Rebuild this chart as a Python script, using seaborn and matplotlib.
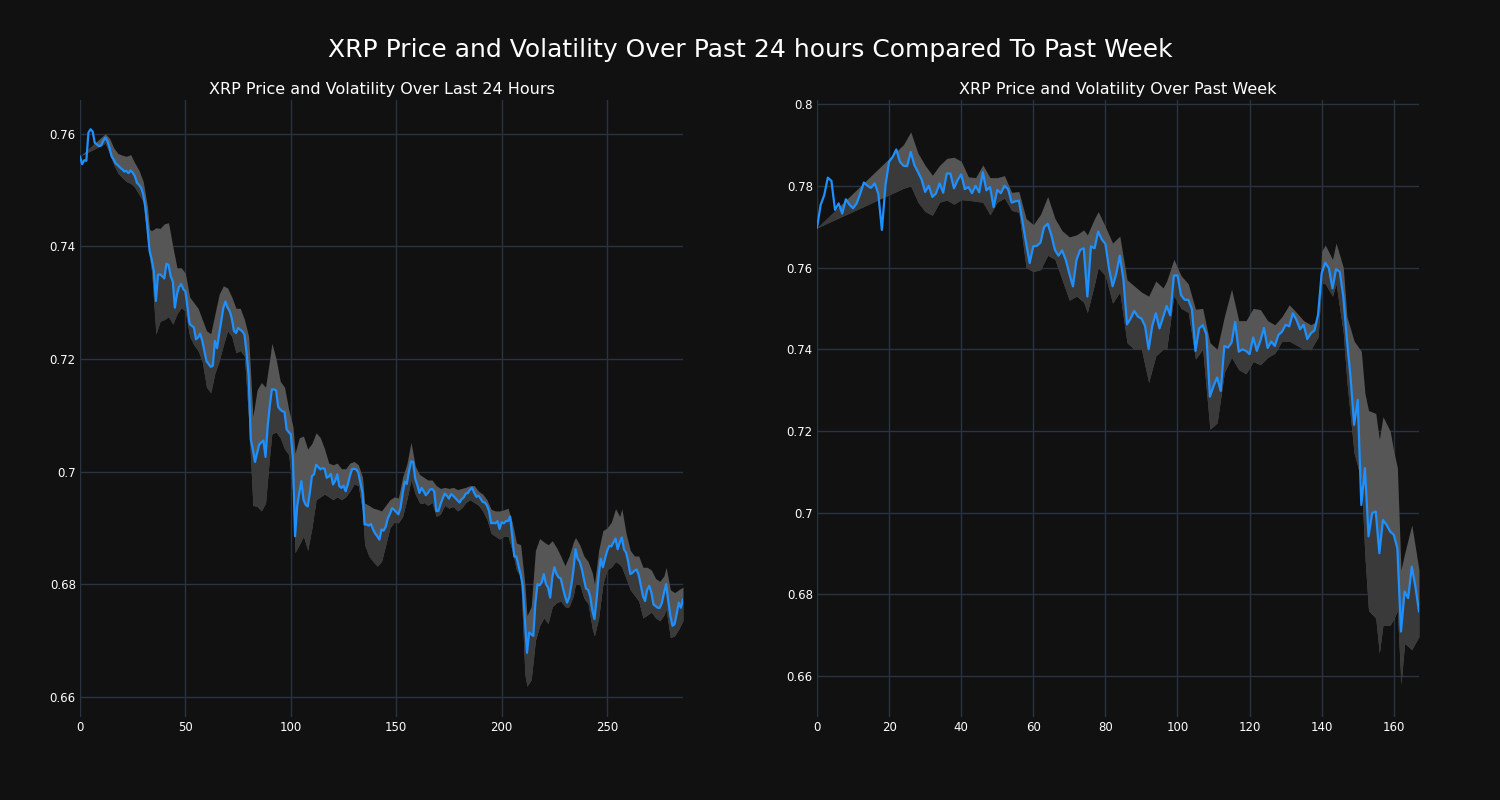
import numpy as np
import pandas as pd
import matplotlib
matplotlib.use('Agg')
import matplotlib.pyplot as plt
from matplotlib.ticker import FuncFormatter
import seaborn as sns

# price over the last 24 hours (5 minute steps)
day_price = [
    0.7560, 0.7546, 0.7553, 0.7552, 0.7602, 0.7608, 0.7604, 0.7584, 0.7581, 0.7578,
    0.7579, 0.7587, 0.7593, 0.7587, 0.7575, 0.7560, 0.7554, 0.7547, 0.7544, 0.7540,
    0.7537, 0.7533, 0.7534, 0.7530, 0.7535, 0.7531, 0.7525, 0.7513, 0.7509, 0.7504,
    0.7492, 0.7469, 0.7433, 0.7392, 0.7377, 0.7356, 0.7303, 0.7350, 0.7350, 0.7347,
    0.7343, 0.7369, 0.7367, 0.7347, 0.7338, 0.7291, 0.7315, 0.7328, 0.7333, 0.7324,
    0.7320, 0.7291, 0.7262, 0.7259, 0.7256, 0.7235, 0.7238, 0.7245, 0.7232, 0.7214,
    0.7196, 0.7191, 0.7186, 0.7188, 0.7232, 0.7219, 0.7244, 0.7267, 0.7291, 0.7302,
    0.7291, 0.7285, 0.7272, 0.7250, 0.7246, 0.7255, 0.7252, 0.7249, 0.7243, 0.7211,
    0.7169, 0.7057, 0.7039, 0.7017, 0.7033, 0.7048, 0.7052, 0.7055, 0.7026, 0.7080,
    0.7116, 0.7146, 0.7146, 0.7144, 0.7115, 0.7110, 0.7107, 0.7106, 0.7075, 0.7070,
    0.7066, 0.7021, 0.6885, 0.6938, 0.6962, 0.6983, 0.6950, 0.6941, 0.6938, 0.6962,
    0.6992, 0.6995, 0.7012, 0.7008, 0.7004, 0.7006, 0.7005, 0.6989, 0.6991, 0.6996,
    0.6977, 0.6983, 0.6995, 0.6974, 0.6971, 0.6975, 0.6965, 0.6977, 0.6992, 0.7004,
    0.7005, 0.7004, 0.6998, 0.6980, 0.6962, 0.6906, 0.6906, 0.6904, 0.6907, 0.6897,
    0.6890, 0.6885, 0.6879, 0.6897, 0.6895, 0.6902, 0.6917, 0.6925, 0.6935, 0.6932,
    0.6928, 0.6924, 0.6935, 0.6960, 0.6982, 0.6978, 0.7000, 0.7018, 0.7017, 0.6987,
    0.6976, 0.6962, 0.6971, 0.6965, 0.6958, 0.6962, 0.6968, 0.6969, 0.6965, 0.6930,
    0.6930, 0.6942, 0.6952, 0.6961, 0.6957, 0.6952, 0.6960, 0.6957, 0.6953, 0.6949,
    0.6945, 0.6951, 0.6954, 0.6961, 0.6962, 0.6968, 0.6971, 0.6962, 0.6955, 0.6957,
    0.6952, 0.6946, 0.6945, 0.6940, 0.6930, 0.6908, 0.6909, 0.6908, 0.6912, 0.6898,
    0.6910, 0.6908, 0.6912, 0.6912, 0.6920, 0.6885, 0.6849, 0.6849, 0.6832, 0.6817,
    0.6796, 0.6738, 0.6678, 0.6714, 0.6711, 0.6708, 0.6767, 0.6800, 0.6798, 0.6803,
    0.6818, 0.6800, 0.6794, 0.6776, 0.6812, 0.6830, 0.6818, 0.6812, 0.6810, 0.6794,
    0.6779, 0.6767, 0.6776, 0.6797, 0.6824, 0.6862, 0.6845, 0.6840, 0.6827, 0.6809,
    0.6792, 0.6790, 0.6778, 0.6753, 0.6738, 0.6773, 0.6815, 0.6845, 0.6830, 0.6845,
    0.6859, 0.6868, 0.6867, 0.6874, 0.6881, 0.6862, 0.6874, 0.6883, 0.6862, 0.6856,
    0.6840, 0.6818, 0.6820, 0.6824, 0.6826, 0.6816, 0.6797, 0.6779, 0.6770, 0.6790,
    0.6797, 0.6785, 0.6764, 0.6761, 0.6758, 0.6758, 0.6767, 0.6785, 0.6800, 0.6770,
    0.6744, 0.6726, 0.6729, 0.6747, 0.6767, 0.6758, 0.6773,
]

# volatility band (24h), read every couple of steps
day_band_x = [0, 12, 14, 16, 18, 20, 22, 24, 26, 28, 30, 32, 33, 34, 36, 38, 40, 42, 44, 46,
              48, 50, 52, 54, 56, 58, 60, 62, 64, 66, 68, 70, 72, 74, 76, 78, 80, 82, 84, 86,
              88, 90, 91, 93, 95, 97, 99, 101, 102, 104, 106, 108, 110, 112, 114, 116, 118, 120, 122, 124,
              126, 128, 130, 132, 134, 135, 137, 139, 141, 143, 145, 147, 149, 151, 153, 155, 157, 159, 161, 163,
              165, 167, 169, 171, 173, 175, 177, 179, 181, 183, 185, 187, 189, 191, 193, 195, 197, 199, 201, 203,
              205, 207, 209, 211, 212, 214, 216, 218, 220, 222, 224, 226, 228, 230, 232, 234, 235, 237, 239, 241,
              243, 244, 246, 248, 250, 252, 254, 256, 257, 259, 261, 263, 265, 267, 269, 271, 273, 275, 277, 278,
              280, 282, 284, 286]
day_band_hi = [0.7560, 0.7600, 0.7592, 0.7575, 0.7565, 0.7562, 0.7560, 0.7563, 0.7548, 0.7535,
               0.7515, 0.7470, 0.7430, 0.7428, 0.7433, 0.7432, 0.7440, 0.7442, 0.7400, 0.7362,
               0.7362, 0.7352, 0.7310, 0.7300, 0.7290, 0.7270, 0.7250, 0.7245, 0.7280, 0.7315,
               0.7330, 0.7326, 0.7310, 0.7290, 0.7290, 0.7270, 0.7240, 0.7098, 0.7145, 0.7158,
               0.7150, 0.7200, 0.7228, 0.7200, 0.7160, 0.7150, 0.7110, 0.7080, 0.7033, 0.7060,
               0.7063, 0.7040, 0.7050, 0.7069, 0.7060, 0.7040, 0.7015, 0.7012, 0.7015, 0.7005,
               0.7005, 0.7015, 0.7018, 0.7012, 0.6990, 0.6944, 0.6940, 0.6935, 0.6933, 0.6930,
               0.6940, 0.6950, 0.6955, 0.6953, 0.6990, 0.7013, 0.7052, 0.7010, 0.6995, 0.6990,
               0.6985, 0.6985, 0.6975, 0.6970, 0.6972, 0.6970, 0.6972, 0.6968, 0.6970, 0.6972,
               0.6975, 0.6975, 0.6965, 0.6960, 0.6950, 0.6933, 0.6930, 0.6930, 0.6932, 0.6935,
               0.6910, 0.6873, 0.6870, 0.6800, 0.6744, 0.6760, 0.6860, 0.6881, 0.6875, 0.6870,
               0.6877, 0.6865, 0.6850, 0.6833, 0.6850, 0.6875, 0.6883, 0.6870, 0.6850, 0.6840,
               0.6820, 0.6800, 0.6860, 0.6895, 0.6900, 0.6910, 0.6934, 0.6920, 0.6934, 0.6890,
               0.6860, 0.6850, 0.6850, 0.6830, 0.6830, 0.6825, 0.6810, 0.6805, 0.6815, 0.6830,
               0.6790, 0.6785, 0.6790, 0.6795]
day_band_lo = [0.7560, 0.7583, 0.7565, 0.7545, 0.7530, 0.7522, 0.7515, 0.7512, 0.7505, 0.7492,
               0.7480, 0.7410, 0.7380, 0.7355, 0.7244, 0.7267, 0.7270, 0.7275, 0.7262, 0.7280,
               0.7291, 0.7285, 0.7240, 0.7225, 0.7215, 0.7195, 0.7150, 0.7140, 0.7175, 0.7196,
               0.7225, 0.7250, 0.7240, 0.7211, 0.7215, 0.7205, 0.7092, 0.6940, 0.6938, 0.6930,
               0.6944, 0.7030, 0.7067, 0.7070, 0.7060, 0.7040, 0.7030, 0.6960, 0.6856, 0.6870,
               0.6885, 0.6860, 0.6900, 0.6950, 0.6955, 0.6960, 0.6955, 0.6950, 0.6955, 0.6950,
               0.6955, 0.6965, 0.6978, 0.6975, 0.6930, 0.6870, 0.6850, 0.6840, 0.6832, 0.6840,
               0.6870, 0.6900, 0.6910, 0.6909, 0.6920, 0.6950, 0.6985, 0.6960, 0.6945, 0.6945,
               0.6940, 0.6945, 0.6920, 0.6925, 0.6940, 0.6935, 0.6938, 0.6930, 0.6935, 0.6945,
               0.6950, 0.6945, 0.6940, 0.6930, 0.6915, 0.6890, 0.6885, 0.6880, 0.6885, 0.6885,
               0.6860, 0.6825, 0.6814, 0.6640, 0.6619, 0.6630, 0.6700, 0.6726, 0.6740, 0.6730,
               0.6760, 0.6767, 0.6770, 0.6760, 0.6760, 0.6780, 0.6800, 0.6800, 0.6775, 0.6765,
               0.6720, 0.6708, 0.6740, 0.6800, 0.6826, 0.6830, 0.6840, 0.6835, 0.6830, 0.6810,
               0.6790, 0.6780, 0.6770, 0.6740, 0.6745, 0.6750, 0.6740, 0.6735, 0.6745, 0.6755,
               0.6705, 0.6708, 0.6720, 0.6735]

# price over the past week (hourly)
week_price = [
    0.7697, 0.7753, 0.7777, 0.7820, 0.7812, 0.7741, 0.7757, 0.7732, 0.7767, 0.7754,
    0.7745, 0.7757, 0.7781, 0.7808, 0.7800, 0.7795, 0.7806, 0.7781, 0.7692, 0.7802,
    0.7859, 0.7871, 0.7889, 0.7859, 0.7849, 0.7848, 0.7883, 0.7851, 0.7834, 0.7816,
    0.7785, 0.7800, 0.7773, 0.7781, 0.7806, 0.7783, 0.7830, 0.7830, 0.7794, 0.7814,
    0.7828, 0.7792, 0.7797, 0.7782, 0.7800, 0.7784, 0.7833, 0.7789, 0.7797, 0.7748,
    0.7790, 0.7782, 0.7800, 0.7792, 0.7759, 0.7762, 0.7764, 0.7713, 0.7660, 0.7611,
    0.7652, 0.7653, 0.7661, 0.7699, 0.7707, 0.7680, 0.7643, 0.7629, 0.7642, 0.7619,
    0.7585, 0.7554, 0.7619, 0.7643, 0.7647, 0.7529, 0.7652, 0.7647, 0.7688, 0.7669,
    0.7658, 0.7598, 0.7554, 0.7584, 0.7629, 0.7571, 0.7461, 0.7475, 0.7494, 0.7480,
    0.7475, 0.7457, 0.7400, 0.7457, 0.7488, 0.7451, 0.7478, 0.7506, 0.7483, 0.7580,
    0.7581, 0.7532, 0.7521, 0.7521, 0.7498, 0.7396, 0.7451, 0.7459, 0.7437, 0.7284,
    0.7310, 0.7331, 0.7298, 0.7408, 0.7404, 0.7416, 0.7467, 0.7394, 0.7400, 0.7396,
    0.7388, 0.7429, 0.7396, 0.7421, 0.7452, 0.7403, 0.7419, 0.7408, 0.7435, 0.7443,
    0.7460, 0.7456, 0.7488, 0.7472, 0.7449, 0.7460, 0.7425, 0.7439, 0.7446, 0.7484,
    0.7586, 0.7612, 0.7598, 0.7549, 0.7596, 0.7590, 0.7529, 0.7423, 0.7333, 0.7215,
    0.7276, 0.7019, 0.7109, 0.6942, 0.6999, 0.7003, 0.6901, 0.6982, 0.6970, 0.6954,
    0.6946, 0.6913, 0.6709, 0.6807, 0.6791, 0.6868, 0.6819, 0.6758,
]

week_band_x = [0, 24, 26, 28, 30, 32, 34, 36, 38, 40, 42, 44, 46, 48, 50, 52, 54, 56, 58, 60,
               62, 64, 66, 68, 70, 72, 74, 75, 77, 78, 80, 82, 84, 86, 88, 90, 92, 94, 96, 97,
               99, 101, 103, 105, 107, 109, 111, 113, 115, 117, 119, 121, 123, 125, 127, 129, 131, 133, 135, 137,
               139, 140, 141, 143, 144, 146, 147, 149, 151, 152, 153, 155, 156, 157, 159, 160, 161, 162, 163, 165,
               167]
week_band_hi = [0.7697, 0.7901, 0.7932, 0.7880, 0.7850, 0.7826, 0.7850, 0.7867, 0.7870, 0.7860,
                0.7822, 0.7820, 0.7851, 0.7820, 0.7820, 0.7825, 0.7784, 0.7786, 0.7720, 0.7705,
                0.7730, 0.7774, 0.7720, 0.7690, 0.7675, 0.7680, 0.7692, 0.7680, 0.7720, 0.7737,
                0.7700, 0.7660, 0.7677, 0.7570, 0.7555, 0.7540, 0.7530, 0.7567, 0.7550, 0.7567,
                0.7620, 0.7580, 0.7560, 0.7498, 0.7500, 0.7416, 0.7400, 0.7480, 0.7547, 0.7470,
                0.7470, 0.7500, 0.7497, 0.7470, 0.7460, 0.7480, 0.7509, 0.7490, 0.7470, 0.7460,
                0.7470, 0.7640, 0.7655, 0.7620, 0.7660, 0.7600, 0.7480, 0.7420, 0.7395, 0.7292,
                0.7250, 0.7243, 0.7180, 0.7235, 0.7200, 0.7150, 0.7110, 0.6860, 0.6900, 0.6970,
                0.6860]
week_band_lo = [0.7697, 0.7794, 0.7800, 0.7760, 0.7737, 0.7728, 0.7760, 0.7765, 0.7755, 0.7766,
                0.7765, 0.7762, 0.7760, 0.7729, 0.7760, 0.7770, 0.7740, 0.7735, 0.7600, 0.7590,
                0.7595, 0.7630, 0.7620, 0.7570, 0.7520, 0.7530, 0.7515, 0.7490, 0.7560, 0.7600,
                0.7580, 0.7513, 0.7540, 0.7416, 0.7400, 0.7400, 0.7319, 0.7384, 0.7400, 0.7400,
                0.7531, 0.7500, 0.7490, 0.7376, 0.7400, 0.7204, 0.7220, 0.7343, 0.7380, 0.7350,
                0.7340, 0.7370, 0.7362, 0.7380, 0.7390, 0.7420, 0.7420, 0.7410, 0.7400, 0.7399,
                0.7430, 0.7562, 0.7560, 0.7530, 0.7560, 0.7440, 0.7320, 0.7146, 0.7080, 0.6893,
                0.6760, 0.6742, 0.6656, 0.6725, 0.6725, 0.6740, 0.6760, 0.6580, 0.6680, 0.6665,
                0.6697]

day_ticks = [0.66, 0.68, 0.70, 0.72, 0.74, 0.76]
week_ticks = [0.66, 0.68, 0.70, 0.72, 0.74, 0.76, 0.78, 0.80]

BG = '#111111'
GRID = '#283442'
LINE = '#1e90ff'
BAND_LIGHT = '#565656'
BAND_DARK = '#3a3a3a'

sns.set_theme(style='dark', rc={
    'figure.facecolor': BG, 'axes.facecolor': BG, 'savefig.facecolor': BG,
    'axes.edgecolor': BG, 'grid.color': GRID, 'text.color': 'white',
    'xtick.color': 'white', 'ytick.color': 'white', 'axes.labelcolor': 'white',
})
plt.rcParams['font.family'] = ['DejaVu Sans']

fig = plt.figure(figsize=(15, 8), dpi=100)
ax1 = fig.add_axes([80 / 1500, 83 / 800, 603 / 1500, 617 / 800])
ax2 = fig.add_axes([817 / 1500, 83 / 800, 602 / 1500, 617 / 800])


def draw(ax, price, bx, bhi, blo, ylim, ticks, title):
    df = pd.DataFrame({'step': np.arange(len(price)), 'price': price})
    # band: light above the price line, darker below it
    ax.fill_between(bx, blo, bhi, color=BAND_LIGHT, linewidth=0)
    dark = ax.fill_between(bx, blo, bhi, color=BAND_DARK, linewidth=0)
    below = ax.fill_between(df['step'], df['price'], ylim[0] - 1, linewidth=0)
    clip = below.get_paths()[0]
    below.remove()
    dark.set_clip_path(clip, ax.transData)
    sns.lineplot(data=df, x='step', y='price', ax=ax, color=LINE, linewidth=1.6)
    ax.set_xlim(0, len(price) - 1)
    ax.set_ylim(*ylim)
    ax.set_yticks(ticks)
    ax.yaxis.set_major_formatter(FuncFormatter(lambda v, p: f'{v:g}'))
    ax.grid(True, color=GRID, linewidth=1)
    ax.tick_params(length=0, labelsize=8.5, pad=3)
    ax.set_xlabel('')
    ax.set_ylabel('')
    for s in ax.spines.values():
        s.set_visible(False)
    ax.set_title(title, color='white', fontsize=11.5, pad=4.5)


draw(ax1, day_price, day_band_x, day_band_hi, day_band_lo, (0.6564, 0.766), day_ticks,
     'XRP Price and Volatility Over Last 24 Hours')
draw(ax2, week_price, week_band_x, week_band_hi, week_band_lo, (0.650, 0.801), week_ticks,
     'XRP Price and Volatility Over Past Week')

fig.suptitle('XRP Price and Volatility Over Past 24 hours Compared To Past Week',
             fontsize=18, color='white', y=1 - 50 / 800, va='center')

fig.savefig('out.png', dpi=100, facecolor=BG)
